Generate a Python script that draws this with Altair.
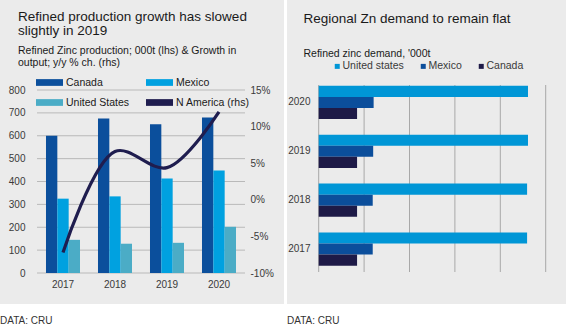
import altair as alt
import pandas as pd

# ---------------- data ----------------
years = ["2017", "2018", "2019", "2020"]
prod_series = ["Canada", "Mexico", "United States"]
canada_prod = [600, 675, 650, 680]
mexico_prod = [325, 335, 413, 448]
us_prod = [145, 128, 132, 202]
na_growth = [-7.2, 6.6, 4.4, 12.0]
left_ticks = [0, 100, 200, 300, 400, 500, 600, 700, 800]
pct_ticks = [-10, -5, 0, 5, 10, 15]

dem_series = ["United states", "Mexico", "Canada"]
us_dem = [918, 918, 922, 922]
mex_dem = [238, 238, 240, 242]
can_dem = [169, 169, 169, 169]
right_ticks = [0, 200, 400, 600, 800, 1000]

FONT = "Liberation Sans"
TXT = "#1a1a1a"
LBL = "#3a3a3a"

prod_rows = []
for s, vals in zip(prod_series, [canada_prod, mexico_prod, us_prod]):
    for y, v in zip(years, vals):
        prod_rows.append({"year": y, "series": s, "value": v})
df_prod = pd.DataFrame(prod_rows)
df_line = pd.DataFrame({"year": years, "pct": na_growth})
df_lt = pd.DataFrame({"tick": left_ticks})

dem_rows = []
for s, vals in zip(dem_series, [us_dem, mex_dem, can_dem]):
    for y, v in zip(years, vals):
        dem_rows.append({"year": y, "series": s, "value": v})
df_dem = pd.DataFrame(dem_rows)
df_rt = pd.DataFrame({"value": right_ticks})


def txt(lines, x, y, size, color=TXT, lh=None):
    kw = dict(text=lines, align="left", baseline="alphabetic", fontSize=size,
              font=FONT, color=color)
    if lh is not None:
        kw["lineHeight"] = lh
    return alt.Chart(alt.Data(values=[{"k": 1}])).mark_text(**kw).encode(
        x=alt.value(x), y=alt.value(y))


axis_common = dict(domain=False, ticks=False, tickSize=0, grid=False,
                   labelFont=FONT, labelFontSize=10, labelColor=LBL, title=None)

# ---------------- left panel ----------------
xband = alt.Scale(range=[37, 245], paddingInner=0.346, paddingOuter=0.173)
ylin = alt.Scale(domain=[0, 800], range=[273, 90], nice=False)

l_grid = alt.Chart(df_lt).mark_rule(color="#b9b9b9", strokeWidth=1).encode(
    y=alt.Y("tick:Q", scale=ylin, axis=None),
    x=alt.value(37), x2=alt.value(245))

l_bars = alt.Chart(df_prod).mark_bar().encode(
    x=alt.X("year:O", scale=xband,
            axis=alt.Axis(orient="bottom", offset=-31, labelPadding=6, labelAngle=0, **axis_common)),
    xOffset=alt.XOffset("series:N", sort=prod_series),
    y=alt.Y("value:Q", scale=ylin,
            axis=alt.Axis(orient="left", offset=-29, labelPadding=4, values=left_ticks, **axis_common)),
    color=alt.Color("series:N",
                    scale=alt.Scale(domain=prod_series + ["N America (rhs)"],
                                    range=["#0b4f9c", "#00a1e0", "#4bacc6", "#1f1d4f"]),
                    legend=alt.Legend(orient="none", legendX=36, legendY=69, columns=2,
                                      direction="horizontal",
                                      symbolType="M-1,-0.25H1V0.25H-1Z", symbolSize=729,
                                      symbolStrokeWidth=0, labelOffset=3,
                                      columnPadding=16, rowPadding=1,
                                      labelFont=FONT, labelFontSize=10.5, labelColor=TXT),
                    title=None),
)

l_line = alt.Chart(df_line).mark_line(interpolate="catmull-rom", strokeWidth=3.2,
                                      color="#1f1d4f").encode(
    x=alt.X("year:O", scale=xband),
    y=alt.Y("pct:Q", scale=alt.Scale(domain=[-10, 15], range=[273, 90], nice=False),
            axis=alt.Axis(orient="right", offset=-38, labelPadding=4, values=pct_ticks,
                          labelExpr="datum.value + '%'", **axis_common)),
)

left = alt.layer(
    l_grid, l_bars, l_line,
    txt(["Refined production growth has slowed", "slightly in 2019"], 18, 20.7, 13.5, lh=14.5),
    txt(["Refined Zinc production; 000t (lhs) & Growth in", "output; y/y % ch. (rhs)"], 18, 54, 10.5, lh=11.8),
    txt("DATA: CRU", 0, 324, 10, color="#333333"),
).resolve_scale(y="independent").properties(width=284, height=304)

# ---------------- right panel ----------------
xr = alt.Scale(domain=[0, 1000], range=[31.7, 258.7], nice=False)

r_grid = alt.Chart(df_rt).mark_rule(color="#a8a8a8", strokeWidth=1).encode(
    x=alt.X("value:Q", scale=xr, axis=None),
    y=alt.value(85), y2=alt.value(272))

r_bars = alt.Chart(df_dem).mark_bar().encode(
    x=alt.X("value:Q", scale=xr,
            axis=alt.Axis(orient="bottom", offset=-29, labelPadding=5, values=right_ticks, **axis_common)),
    y=alt.Y("year:O", sort="descending",
            scale=alt.Scale(range=[78, 273.5], paddingInner=0.32, paddingOuter=0.16),
            axis=alt.Axis(orient="left", offset=-27, labelPadding=4, **axis_common)),
    yOffset=alt.YOffset("series:N", sort=dem_series),
    color=alt.Color("series:N",
                    scale=alt.Scale(domain=dem_series, range=["#0096d6", "#0b4e9b", "#1e1a47"]),
                    sort=dem_series,
                    legend=alt.Legend(orient="none", legendX=45, legendY=61, direction="horizontal",
                                      symbolType="square", symbolSize=25, symbolStrokeWidth=0,
                                      labelOffset=0, columnPadding=14,
                                      labelFont=FONT, labelFontSize=10.5, labelColor=LBL),
                    title=None),
)

right = alt.layer(
    r_grid, r_bars,
    txt("Regional Zn demand to remain flat", 16.5, 23.3, 13.5),
    txt("Refined zinc demand, '000t", 16.5, 56.7, 10.5),
    txt("DATA: CRU", 0, 324, 10, color="#333333"),
).properties(width=279, height=304)

chart = alt.hconcat(left, right, spacing=3, bounds="flush").resolve_scale(
    color="independent", x="independent", y="independent"
).properties(
    background="white", padding=0
).configure_view(fill="#ebebeb", strokeWidth=0)

chart.save("out.html", embed_options={"renderer": "svg", "actions": False})
